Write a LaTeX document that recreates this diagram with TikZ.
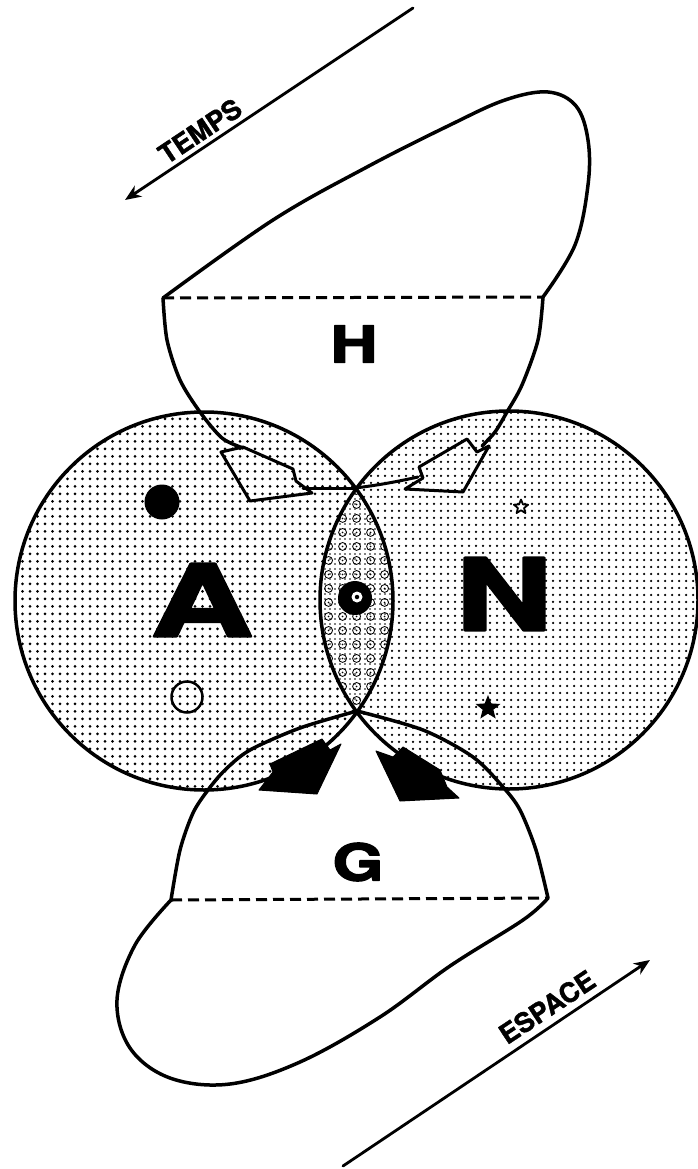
\documentclass[tikz,border=0pt]{standalone}
\usepackage{fontspec}
\usepackage{graphicx}
\setmainfont{TeX Gyre Heros}
\newfontfamily\heavyfont{TeX Gyre Heros}[BoldFeatures={FakeBold=2.5}]
\newfontfamily\labelfont{TeX Gyre Heros}[BoldFeatures={FakeBold=1.5}]
\usetikzlibrary{patterns,patterns.meta,shapes.geometric,arrows.meta}
\pgfdeclarepatternformonly{lensrings}{\pgfqpoint{0pt}{0pt}}{\pgfqpoint{14pt}{14pt}}{\pgfqpoint{14pt}{14pt}}{%
  \pgfsetlinewidth{0.9pt}%
  \pgfpathcircle{\pgfqpoint{7pt}{7pt}}{4.2pt}\pgfusepath{stroke}%
  \pgfpathcircle{\pgfqpoint{7pt}{7pt}}{1.0pt}\pgfusepath{fill}%
}
\begin{document}
\begin{tikzpicture}[x=1pt,y=-1pt,line join=round,line cap=round,
  outline/.style={line width=3.5pt},
  conn/.style={line width=3pt},
  dashedline/.style={line width=3pt,dash pattern=on 11pt off 6pt,line cap=butt},
  bigletter/.style={font=\fontsize{100}{100}\selectfont\heavyfont\bfseries,inner sep=0pt},
  midletter/.style={font=\fontsize{51}{51}\selectfont\heavyfont\bfseries,inner sep=0pt},
  axislabel/.style={font=\fontsize{27}{27}\selectfont\labelfont\bfseries,inner sep=0pt},
  axisarrow/.style={line width=2.8pt,-{Stealth[length=16pt,width=13pt,inset=5pt]}},
  blackarrow/.style={fill=black,draw=black,line width=1pt},
]
\useasboundingbox (0,0) rectangle (697,1169);
\fill[white] (0,0) rectangle (697,1169);

\coordinate (cA) at (204,601);
\coordinate (cN) at (509,600);
\coordinate (top) at (355,488);
\coordinate (bot) at (357,711);

% circle fills
\fill[pattern={Dots[distance=7.5pt,radius=1.5pt]}] (cA) circle[radius=189];
\fill[pattern={Dots[distance=7pt,radius=1.25pt]}] (cN) circle[radius=189];
% lens
\begin{scope}
  \clip (cA) circle[radius=189];
  \fill[white] (cN) circle[radius=189];
  \fill[pattern={Dots[distance=5pt,radius=0.9pt]}] (cN) circle[radius=189];
  \fill[pattern=lensrings] (cN) circle[radius=189];
\end{scope}
\draw[outline] (cA) circle[radius=189];
\draw[outline] (cN) circle[radius=189];

% H loop and bowl
\coordinate (hL) at (163,298);
\coordinate (hR) at (543,297);
\draw[outline] plot[smooth,tension=0.6] coordinates {(163,298) (273,220) (367,167) (450,125) (505,100) (548,92) (576,106) (588,140) (588,185) (575,245) (543,297)};
\draw[dashedline] (hL) -- (hR);
\draw[outline] plot[smooth] coordinates {(163,298) (167,340) (180,380) (200,412) (222,438) (243,448)};
\draw[outline] plot[smooth] coordinates {(543,297) (538,340) (522,385) (507,412) (495,432) (482,446)};
% hollow arrows
\draw[conn] (221,452) -- (243,447) -- (293,469) -- (296,481) -- (312,493) -- (250,501) -- cycle;
\draw[conn] (489,446) -- (477,452) -- (467,439) -- (419,467) -- (423,478) -- (405,489) -- (463,492) -- cycle;
\draw[conn] (303,488) -- (top);
\draw[conn] (top) .. controls (380,485) and (400,481) .. (418,477);

% G bowl and loop
\coordinate (gL) at (171,900);
\coordinate (gR) at (548,898);
\draw[outline] plot[smooth] coordinates {(357,711) (300,728) (250,750) (225,770) (208,790) (193,813) (180,850) (171,900)};
\draw[outline] plot[smooth] coordinates {(357,711) (423,730) (473,757) (503,787) (520,810) (536,850) (548,898)};
\draw[dashedline] (gL) -- (gR);
\draw[outline] plot[smooth,tension=0.6] coordinates {(548,898) (523,920) (450,966) (380,1017) (300,1062) (230,1084) (170,1078) (130,1048) (117,1000) (135,945) (171,900)};
% black arrows
\filldraw[blackarrow] (341,744) -- (330,750) -- (322,739) -- (270,764) -- (273,772) -- (259,790) -- (317,794) -- cycle;
\filldraw[blackarrow] (376,751) -- (393,757) -- (403,747) -- (440,770) -- (447,787) -- (459,798) -- (400,801) -- cycle;

% center blob
\node[circle,fill=black,minimum size=34pt,inner sep=0pt] (blob) at (355,598) {};
\node[circle,fill=white,minimum size=11pt,inner sep=0pt] (blobring) at (357,597) {};
\node[circle,fill=black,minimum size=4.5pt,inner sep=0pt] (blobdot) at (357,597) {};

% symbols
\node[circle,fill=black,minimum size=35pt,inner sep=0pt] (bdot) at (162,502) {};
\node[circle,draw=black,line width=2.5pt,minimum size=31pt,inner sep=0pt] (odot) at (187,697) {};
\node[star,star points=5,star point ratio=2.3,draw=black,fill=white,line width=1.8pt,minimum size=15pt,inner sep=0pt] (ostar) at (521,507) {};
\node[star,star points=5,star point ratio=2.3,fill=black,minimum size=26pt,inner sep=0pt] (fstar) at (488,708) {};

% letters
\node[bigletter] (A) at (202,600) {\scalebox{1.42}[1]{A}};
\node[bigletter] (N) at (504,594) {\scalebox{1.33}[1]{N}};
\node[midletter] (H) at (354,344) {\scalebox{1.28}[1]{H}};
\node[midletter] (G) at (358,862) {\scalebox{1.28}[1]{G}};

% axes
\coordinate (t1) at (413,8);
\coordinate (t2) at (125,200);
\draw[axisarrow] (t1) -- (t2);
\node[axislabel,rotate=33.7] (temps) at (200,131) {TEMPS};
\coordinate (e1) at (343,1166);
\coordinate (e2) at (650,960);
\draw[axisarrow] (e1) -- (e2);
\node[axislabel,rotate=33.5] (espace) at (547,1007) {ESPACE};
\end{tikzpicture}
\end{document}
